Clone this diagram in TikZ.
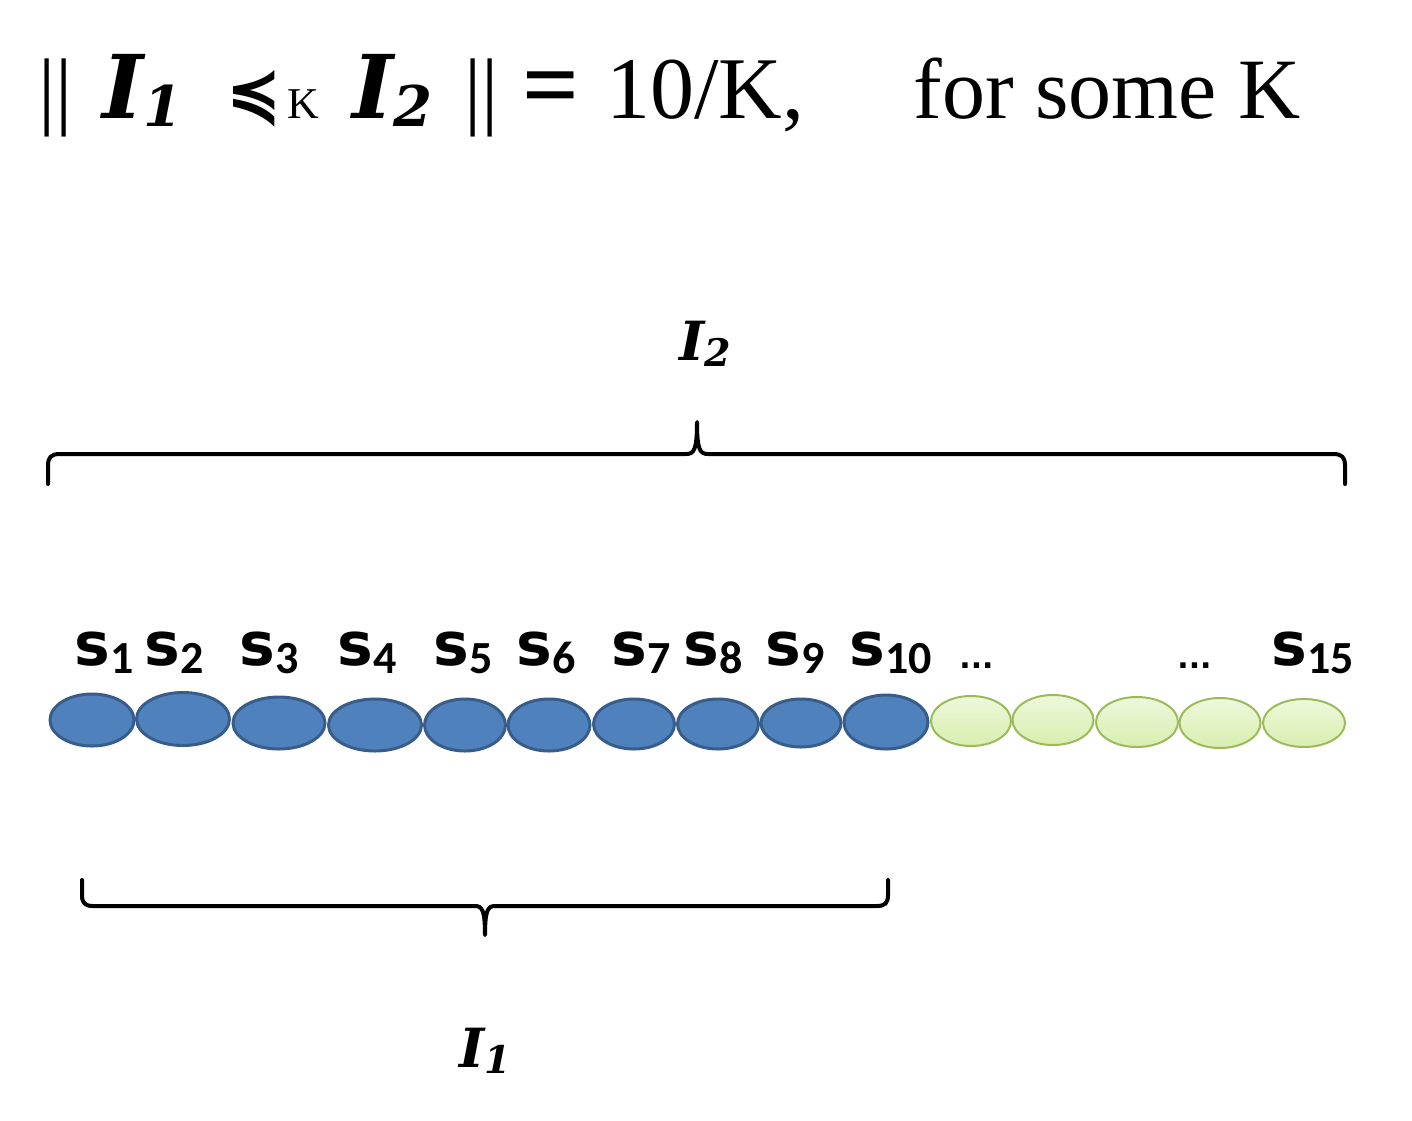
\documentclass[tikz,border=0pt]{standalone}
\usepackage{fontspec}
\usetikzlibrary{shapes.geometric}
\setmainfont{Liberation Serif}
\newfontfamily\ifam{DejaVu Serif}
\newfontfamily\sfam{DejaVu Sans}
\newfontfamily\subfam{Carlito}
\definecolor{bfill}{HTML}{4F81BD}
\definecolor{bdraw}{HTML}{385D8A}
\definecolor{gtop}{HTML}{EEF8DC}
\definecolor{gbot}{HTML}{D8EEAE}
\definecolor{gdraw}{HTML}{9BBB59}
\newcommand{\slab}[1]{{\sfam\bfseries\fontsize{30}{32}\selectfont s}{\subfam\bfseries\fontsize{23}{24}\selectfont\raisebox{-4pt}{#1}}}
\tikzset{
  txt/.style={inner sep=0pt, anchor=base west},
  blueell/.style={ellipse, draw=bdraw, fill=bfill, line width=1.5pt, inner sep=0pt},
  greenell/.style={ellipse, draw=gdraw, top color=gtop, bottom color=gbot, line width=1pt, inner sep=0pt},
  brace/.style={line width=2pt, line cap=round, line join=round},
}
\begin{document}
\begin{tikzpicture}[x=0.5pt, y=-0.5pt]
\useasboundingbox (0,0) rectangle (1412,1120);
% title
\node[txt] (bar1) at (38,118) {\fontsize{43}{50}\selectfont ||};
\node[txt] (i1t) at (102,118) {{\ifam\bfseries\itshape\fontsize{44}{46}\selectfont I}{\ifam\bfseries\itshape\fontsize{28}{30}\selectfont\raisebox{-4pt}{1}}};
\node[txt] (prec) at (226,115) {\sfam\bfseries\fontsize{33}{36}\selectfont ≼};
\node[txt] (ksub) at (287,118) {\fontsize{22}{24}\selectfont K};
\node[txt] (i2t) at (352,118) {{\ifam\bfseries\itshape\fontsize{44}{46}\selectfont I}{\ifam\bfseries\itshape\fontsize{28}{30}\selectfont\raisebox{-4pt}{2}}};
\node[txt] (bar2) at (464,118) {\fontsize{43}{50}\selectfont ||};
\node[txt] (eq) at (522,118) {\bfseries\fontsize{50}{54}\selectfont =};
\node[txt] (val) at (606,118) {\fontsize{44}{50}\selectfont 10/K,};
\node[txt] (some) at (913,118) {\fontsize{43}{50}\selectfont for some K};
% I2 label and brace
\node[txt] (I2) at (679,360) {{\ifam\bfseries\itshape\fontsize{27}{29}\selectfont I}{\ifam\bfseries\itshape\fontsize{19}{21}\selectfont\raisebox{-3pt}{2}}};
\draw[brace] (48,484) -- (48,466) .. controls (48,457) and (51,454) .. (60,454) -- (686,454) .. controls (694,454) and (697,450) .. (697,422) .. controls (697,450) and (700,454) .. (708,454) -- (1333,454) .. controls (1342,454) and (1345,457) .. (1345,466) -- (1345,484);
% labels
\foreach \n/\x in {1/74,2/144,3/239,4/337,5/433,6/516,7/611,8/683,9/765,10/849,15/1271}
  \node[txt] (s\n) at (\x,665) {\slab{\n}};
\node[txt] (d1) at (959,668) {\sfam\bfseries\fontsize{15}{16}\selectfont ...};
\node[txt] (d2) at (1177,668) {\sfam\bfseries\fontsize{15}{16}\selectfont ...};
% ellipses
\foreach \i/\x/\y/\w/\h in {1/92/720/87/55, 2/183/719/96/56, 3/279/723/95/55, 4/375/725/96/55, 5/465/725/84/55, 6/549/725/85/55, 7/634/724/84/53, 8/718/724/84/53, 9/801/723/83/51, 10/886/722/87/57}
  \node[blueell, minimum width=\w*0.5pt-1.5pt, minimum height=\h*0.5pt-1.5pt] (e\i) at (\x,\y) {};
\foreach \i/\x/\y/\w/\h in {11/971/721/82/52, 12/1053/720/83/52, 13/1137/722/84/52, 14/1220/723/83/52, 15/1304/723/84/50}
  \node[greenell, minimum width=\w*0.5pt-1pt, minimum height=\h*0.5pt-1pt] (e\i) at (\x,\y) {};
% bottom brace and I1
\draw[brace] (82,880) -- (82,895) .. controls (82,903) and (85,906) .. (93,906) -- (475,906) .. controls (482,906) and (485,910) .. (485,935) .. controls (485,910) and (488,906) .. (495,906) -- (877,906) .. controls (885,906) and (888,903) .. (888,895) -- (888,880);
\node[txt] (I1) at (459,1067) {{\ifam\bfseries\itshape\fontsize{27}{29}\selectfont I}{\ifam\bfseries\itshape\fontsize{19}{21}\selectfont\raisebox{-3pt}{1}}};
\end{tikzpicture}
\end{document}
